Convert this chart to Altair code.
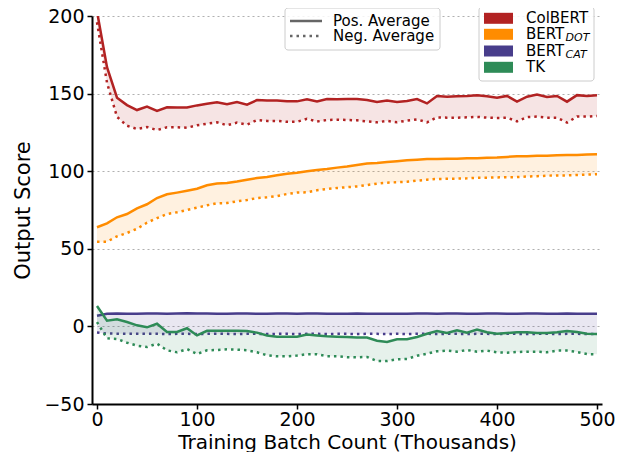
import altair as alt
import pandas as pd

batches = list(range(0, 501, 10))
models = ["ColBERT", "BERT_DOT", "BERT_CAT", "TK"]
colors = ["#b22222", "#ff8c00", "#483d8b", "#2e8b57"]

colbert_pos = [203, 167, 147.4, 142.6, 139.4, 141.6, 138.8, 141.2, 141, 141, 142.4, 143.5, 144.4, 143.1, 144.6,
               142.9, 145.8, 145.5, 145.5, 145, 145, 146.3, 145, 146.5, 146.3, 146.5, 146.5, 145.9, 144.6, 145.5,
               144.6, 145.3, 146.5, 143.7, 148.5, 148, 148.3, 148.5, 149, 148.3, 147.4, 148.5, 144.8, 148, 149.4,
               147.8, 148.5, 144.8, 149, 148.5, 149]
colbert_neg = [196, 157, 135, 129.3, 127.2, 128.5, 126.5, 128.3, 128.3, 128, 129.6, 130.6, 131.5, 129.6, 131.3,
               130, 133, 132.4, 132.4, 131.8, 131.8, 133.8, 132, 133, 133.2, 133, 132.8, 132.1, 131.5, 132.4,
               131.5, 132.6, 133.4, 131.5, 134.7, 134.5, 134.5, 134.7, 135, 134.5, 134.3, 134.5, 132.1, 134.9,
               135.2, 134.5, 134.5, 131.3, 135.2, 135.2, 135.6]
bertdot_pos = [63.9, 66.4, 70.3, 72.4, 76.1, 78.7, 82.7, 85.1, 86.2, 87.4, 88.7, 90.9, 92, 92.4, 93.3, 94.5, 95.6,
               96.3, 97.4, 98.4, 99, 99.9, 100.8, 101.4, 102.3, 103, 104, 104.9, 105.3, 105.9, 106.4, 107, 107.4,
               107.9, 107.9, 108, 108.1, 108.3, 108.4, 108.6, 108.8, 109.2, 109.6, 109.7, 110, 110, 110.2, 110.4,
               110.5, 110.7, 110.9]
bertdot_neg = [54.6, 54.6, 58, 60.2, 62.9, 66.8, 69.8, 72.4, 73.5, 75, 76.5, 78, 79.3, 79.5, 80.6, 81.4, 82.7,
               83.2, 84, 85.3, 86.2, 86.4, 87.7, 88.5, 89.2, 89.7, 90.2, 91.1, 92, 92.6, 92.9, 93.2, 93.9, 94.5,
               95, 95.1, 95.2, 95.4, 95.8, 95.8, 96, 96.1, 96.2, 96.6, 96.8, 97.1, 97.3, 97.3, 97.6, 97.8, 98]
bertcat_pos = [6.8, 8.2, 8.3, 8.2, 8.2, 8.3, 8.3, 8.2, 8.3, 8.4, 8.3, 8.3, 8.2, 8.2, 8.3, 8.3, 8.2, 8.2, 8.3, 8.3,
               8.2, 8.3, 8.3, 8.2, 8.2, 8.2, 8.3, 8.2, 8.2, 8.1, 8.2, 8.2, 8.3, 8.3, 8.2, 8.3, 8.3, 8.2, 8.2, 8.3,
               8.3, 8.2, 8.2, 8.3, 8.3, 8.2, 8.2, 8.3, 8.2, 8.2, 8.2]
bertcat_neg = [-4.0, -4.6, -4.7, -4.8, -4.7, -4.8, -4.8, -4.9, -4.8, -4.8, -4.9, -4.8, -4.7, -4.8, -4.9, -4.8,
               -4.8, -4.9, -4.8, -4.8, -4.9, -4.8, -4.8, -4.9, -4.8, -4.8, -4.9, -4.8, -4.8, -4.9, -4.8, -4.9,
               -4.8, -4.8, -4.9, -4.8, -4.8, -4.9, -4.8, -4.8, -4.9, -4.8, -4.8, -4.9, -4.8, -4.8, -4.9, -4.8,
               -4.8, -4.9, -4.8]
tk_pos = [13.1, 3.7, 4.6, 2.8, 0.7, -0.6, 1.7, -3.6, -3.6, -1.2, -5.8, -2.8, -2.8, -2.8, -2.8, -3, -4, -5.8,
          -6.6, -6.6, -6.6, -5.3, -5.8, -6.4, -6.6, -6.9, -7.2, -7.2, -9.2, -10, -8.3, -8.3, -6.8, -4.7, -3,
          -4.3, -2.5, -4.1, -2.1, -3.8, -4.7, -4.3, -3.8, -3.8, -4.3, -4.3, -3.8, -3, -3.6, -4.7, -4.9]
tk_neg = [2.8, -7.7, -8.1, -10.5, -12.4, -13.3, -11.1, -15.4, -16.7, -14.6, -17.8, -15.4, -15.2, -14.8, -15,
          -15.4, -16.7, -18.6, -19.3, -19.3, -18.8, -17.9, -17.9, -19.3, -19.3, -19.8, -19.9, -19.7, -22.3,
          -22.3, -21.2, -21, -18.9, -17.6, -16, -15.6, -16.3, -15.2, -16.3, -15.6, -16.7, -16.9, -16.5, -16.3,
          -16.3, -16.7, -15.6, -15.6, -16.5, -17.8, -18]

series = {
    "ColBERT": (colbert_pos, colbert_neg),
    "BERT_DOT": (bertdot_pos, bertdot_neg),
    "BERT_CAT": (bertcat_pos, bertcat_neg),
    "TK": (tk_pos, tk_neg),
}

x_title = "Training Batch Count (Thousands)"
y_title = "Output Score"
xscale = alt.Scale(domain=[-5, 505], nice=False, zero=False)
yscale = alt.Scale(domain=[-50, 200], nice=False, zero=False)
xaxis = alt.Axis(values=[0, 100, 200, 300, 400, 500], grid=False, title=x_title,
                 titleBaseline="alphabetic", titleY=44, titleFontSize=20, labelPadding=1)
yaxis = alt.Axis(values=[-50, 0, 50, 100, 150, 200], grid=True, title=y_title, titlePadding=10)

layers = []
for m, c in zip(models, colors):
    pos, neg = series[m]
    df = pd.DataFrame({"batch": batches, "pos": pos, "neg": neg})
    base = alt.Chart(df).encode(x=alt.X("batch:Q", scale=xscale, axis=xaxis, title=x_title))
    area = base.mark_area(color=c, opacity=0.12, clip=True).encode(
        y=alt.Y("pos:Q", scale=yscale, axis=yaxis, title=y_title), y2="neg:Q")
    lpos = base.mark_line(color=c, strokeWidth=2.5, clip=True).encode(
        y=alt.Y("pos:Q", scale=yscale, axis=yaxis, title=y_title))
    lneg = base.mark_line(color=c, strokeWidth=2.5, strokeDash=[2.5, 4], clip=True).encode(
        y=alt.Y("neg:Q", scale=yscale, axis=yaxis, title=y_title))
    layers += [area, lpos, lneg]

one = alt.Data(values=[{"k": 1}])

def box(x1, x2, y1, y2):
    return alt.Chart(one).mark_rect(fill="white", fillOpacity=0.85, stroke="#cccccc", strokeWidth=1,
                                    cornerRadius=3).encode(
        x=alt.value(x1), x2=alt.value(x2), y=alt.value(y1), y2=alt.value(y2))

def txt(s, x, y, size=15, style="normal"):
    return alt.Chart(one).mark_text(text=s, align="left", baseline="middle", fontSize=size,
                                    fontStyle=style, color="black", font="DejaVu Sans").encode(
        x=alt.value(x), y=alt.value(y))

legend_layers = []
legend_layers.append(box(193, 348, -8, 34))
legend_layers.append(alt.Chart(one).mark_rule(color="#666666", strokeWidth=2.5).encode(
    x=alt.value(198), x2=alt.value(230), y=alt.value(5)))
legend_layers.append(alt.Chart(one).mark_rule(color="#666666", strokeWidth=2.5, strokeDash=[2.5, 4]).encode(
    x=alt.value(198), x2=alt.value(230), y=alt.value(20)))
legend_layers.append(txt("Pos. Average", 241, 5))
legend_layers.append(txt("Neg. Average", 241, 20))

legend_layers.append(box(387, 502, -9, 65))
rows = [2.3, 18.3, 35, 51.3]
names = [("ColBERT", None), ("BERT", "DOT"), ("BERT", "CAT"), ("TK", None)]
for (main, sub), c, ry in zip(names, colors, rows):
    legend_layers.append(alt.Chart(one).mark_rect(color=c).encode(
        x=alt.value(392), x2=alt.value(421), y=alt.value(ry - 5.5), y2=alt.value(ry + 5.5)))
    legend_layers.append(txt(main, 434, ry))
    if sub:
        legend_layers.append(txt(sub, 473.5, ry + 4, size=11, style="italic"))

chart = alt.layer(*layers, *legend_layers).properties(
    width=510, height=388,
    autosize=alt.AutoSizeParams(type="none"),
    padding={"left": 84, "top": 8, "right": 26, "bottom": 48},
).configure(font="DejaVu Sans").configure_view(stroke=None).configure_axis(
    domainColor="black", domainWidth=2, tickColor="black", tickWidth=1.5, tickSize=5,
    labelFont="DejaVu Sans", labelFontSize=19, labelColor="black", labelPadding=3,
    titleFont="DejaVu Sans", titleFontSize=21, titleFontWeight="normal", titleColor="black",
    gridColor="#b0b0b0", gridDash=[2, 3], gridWidth=1.2,
)

chart.save("out.html", embed_options={"renderer": "svg", "actions": False})
